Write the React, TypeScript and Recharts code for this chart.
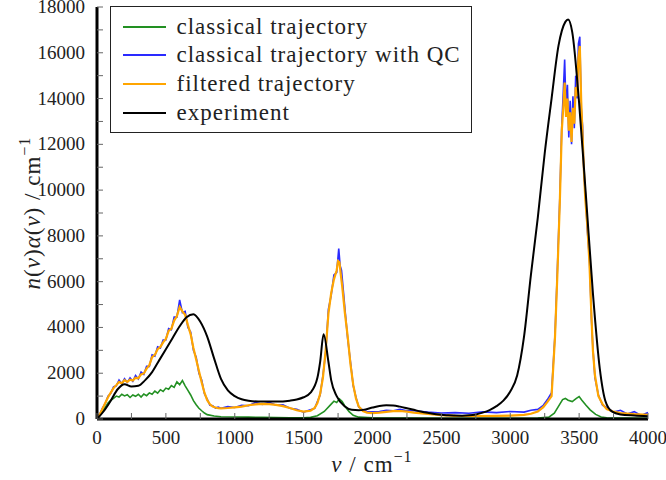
import React from "react"
import { LineChart, Line, XAxis, YAxis, Legend } from "recharts"

// wavenumber ticks (cm^-1) and intensity ticks
const xTicks = [0, 250, 500, 750, 1000, 1250, 1500, 1750, 2000, 2250, 2500, 2750, 3000, 3250, 3500, 3750, 4000]
const yTicks = [0, 1000, 2000, 3000, 4000, 5000, 6000, 7000, 8000, 9000, 10000, 11000, 12000, 13000, 14000, 15000, 16000, 17000, 18000]

// [nu, n(nu)alpha(nu)]
const classical: number[][] = [
  [0, 0], [20, 150], [40, 330], [60, 520], [80, 700], [100, 820], [120, 900], [140, 1000], [160, 960], [180, 1080],
  [200, 1010], [220, 1060], [240, 940], [260, 1050], [280, 990], [300, 1080], [320, 960], [340, 1090], [360, 1020],
  [380, 1140], [400, 1080], [420, 1220], [440, 1130], [460, 1280], [480, 1200], [500, 1350], [520, 1300], [540, 1460],
  [560, 1380], [580, 1620], [600, 1500], [620, 1680], [640, 1450], [660, 1250], [680, 1050], [700, 800], [720, 620],
  [740, 470], [760, 360], [780, 260], [800, 190], [850, 130], [900, 100], [1000, 90], [1100, 80], [1200, 70],
  [1300, 60], [1400, 50], [1500, 50], [1550, 70], [1600, 140], [1650, 330], [1700, 650], [1720, 780], [1740, 720],
  [1760, 880], [1780, 760], [1800, 560], [1830, 320], [1860, 160], [1900, 80], [2000, 50], [2500, 30], [3000, 30],
  [3200, 40], [3280, 80], [3320, 250], [3350, 550], [3380, 850], [3400, 900], [3420, 820], [3450, 760], [3480, 900],
  [3500, 980], [3520, 820], [3550, 600], [3580, 400], [3620, 200], [3660, 90], [3700, 50], [4000, 30],
]

const classicalQC: number[][] = [
  [0, 0], [20, 220], [40, 480], [60, 680], [80, 1000], [100, 1120], [120, 1400], [140, 1450], [160, 1700], [180, 1540],
  [200, 1760], [220, 1600], [240, 1800], [260, 1650], [280, 1900], [300, 1750], [320, 2050], [340, 1950], [360, 2300],
  [380, 2300], [400, 2800], [420, 2750], [440, 3150], [460, 3100], [480, 3450], [500, 3450], [520, 3950], [540, 3900],
  [560, 4450], [580, 4450], [600, 5200], [620, 4650], [640, 4700], [660, 4000], [680, 3800], [700, 3000], [720, 2700],
  [740, 2000], [760, 1700], [780, 1100], [800, 870], [820, 600], [840, 580], [860, 480], [880, 520], [900, 470],
  [950, 540], [1000, 500], [1050, 600], [1100, 580], [1150, 720], [1200, 640], [1250, 730], [1300, 600], [1350, 620],
  [1400, 470], [1450, 420], [1500, 300], [1550, 400], [1580, 460], [1600, 760], [1620, 1050], [1640, 1900],
  [1660, 2900], [1680, 4800], [1700, 5400], [1720, 6300], [1740, 6400], [1755, 7450], [1765, 6700], [1775, 6500],
  [1790, 5500], [1800, 4800], [1820, 3500], [1840, 2500], [1860, 1450], [1880, 950], [1900, 520], [1930, 400],
  [1960, 330], [2000, 320], [2050, 330], [2100, 380], [2150, 360], [2200, 420], [2250, 360], [2300, 360], [2400, 300],
  [2500, 260], [2600, 280], [2700, 250], [2800, 310], [2900, 280], [3000, 330], [3100, 300], [3150, 380], [3200, 420],
  [3240, 600], [3270, 850], [3300, 1150], [3325, 3700], [3342, 6500], [3360, 9700], [3374, 12800], [3385, 14300],
  [3395, 15700], [3405, 13500], [3415, 14600], [3425, 12300], [3435, 13900], [3445, 12000], [3455, 14100],
  [3465, 12700], [3475, 15000], [3485, 14000], [3495, 16400], [3505, 16700], [3515, 13600], [3525, 12800],
  [3535, 10600], [3545, 9900], [3560, 8200], [3575, 7000], [3590, 4300], [3600, 3100], [3615, 1800], [3640, 1050],
  [3670, 600], [3700, 500], [3750, 300], [3800, 380], [3850, 220], [3900, 320], [3950, 150], [4000, 280],
]

const filtered: number[][] = [
  [0, 0], [20, 200], [40, 450], [60, 700], [80, 950], [100, 1150], [120, 1350], [140, 1480], [160, 1620], [180, 1560],
  [200, 1700], [220, 1620], [240, 1720], [260, 1680], [280, 1800], [300, 1780], [320, 1950], [340, 1990], [360, 2200],
  [380, 2350], [400, 2700], [420, 2800], [440, 3050], [460, 3150], [480, 3350], [500, 3500], [520, 3850], [540, 3950],
  [560, 4300], [580, 4500], [600, 4900], [620, 4700], [640, 4550], [660, 4100], [680, 3700], [700, 3100], [720, 2600],
  [740, 2100], [760, 1600], [780, 1150], [800, 820], [820, 640], [840, 540], [860, 500], [880, 470], [900, 460],
  [950, 480], [1000, 510], [1050, 540], [1100, 600], [1150, 640], [1200, 660], [1250, 650], [1300, 620], [1350, 560],
  [1400, 480], [1450, 380], [1500, 320], [1550, 360], [1580, 480], [1600, 700], [1620, 1100], [1640, 1800],
  [1660, 3000], [1680, 4600], [1700, 5500], [1720, 6100], [1740, 6500], [1750, 6900], [1760, 6850], [1770, 6300],
  [1780, 5800], [1800, 4600], [1820, 3600], [1840, 2400], [1860, 1500], [1880, 900], [1900, 550], [1930, 350],
  [1960, 280], [2000, 260], [2050, 280], [2100, 310], [2150, 340], [2200, 350], [2250, 320], [2300, 280], [2400, 220],
  [2500, 170], [2600, 140], [2700, 130], [2800, 130], [2900, 140], [3000, 150], [3100, 180], [3150, 230], [3200, 330],
  [3240, 520], [3270, 750], [3300, 1000], [3325, 3600], [3342, 6300], [3360, 9500], [3374, 12600], [3385, 13600],
  [3395, 14700], [3405, 13200], [3415, 14000], [3425, 12600], [3435, 13400], [3445, 12100], [3455, 13600],
  [3465, 12900], [3475, 14500], [3485, 14100], [3495, 15800], [3505, 16300], [3515, 13900], [3525, 12400],
  [3535, 10800], [3545, 9600], [3560, 8400], [3575, 6800], [3590, 4400], [3600, 3000], [3615, 1900], [3640, 1000],
  [3670, 650], [3700, 430], [3750, 320], [3800, 260], [3900, 210], [4000, 180],
]

const experiment: number[][] = [
  [0, 0], [50, 350], [100, 800], [150, 1300], [200, 1520], [250, 1420], [300, 1450], [350, 1700], [400, 2050],
  [450, 2550], [500, 3050], [550, 3550], [600, 4050], [650, 4450], [700, 4580], [750, 4250], [800, 3600], [850, 2650],
  [900, 1750], [950, 1250], [1000, 1000], [1050, 860], [1100, 800], [1200, 760], [1300, 760], [1400, 800], [1450, 850],
  [1500, 950], [1550, 1150], [1600, 1800], [1620, 2500], [1645, 3700], [1680, 2500], [1700, 1700], [1740, 1000],
  [1800, 550], [1850, 400], [1900, 380], [1950, 420], [2000, 500], [2050, 570], [2100, 600], [2150, 590], [2200, 540],
  [2250, 470], [2300, 400], [2350, 330], [2400, 270], [2450, 220], [2500, 190], [2550, 160], [2600, 150], [2650, 145],
  [2700, 160], [2750, 200], [2800, 280], [2850, 390], [2900, 560], [2950, 800], [3000, 1200], [3050, 1900],
  [3100, 3600], [3150, 6300], [3200, 8800], [3250, 11600], [3300, 14000], [3350, 16300], [3400, 17350], [3420, 17450],
  [3450, 16900], [3500, 13800], [3550, 9700], [3600, 5500], [3650, 2200], [3690, 800], [3740, 320], [3800, 200],
  [3900, 150], [4000, 120],
]

const seriesNames = ["classical trajectory", "classical trajectory with QC", "filtered trajectory", "experiment"]
const seriesColors = ["#229022", "#2a2aff", "#ffa500", "#000000"]

const serif = '"Liberation Serif", "Times New Roman", serif'

const toPoints = (arr: number[][]) => arr.map(([nu, v]) => ({ nu, v }))

function YTick(props: any) {
  const { x, y, payload } = props
  const v = payload.value
  return (
    <g>
      <line x1={x} x2={x + 6} y1={y} y2={y} stroke="#666" strokeWidth={1} />
      {v % 2000 === 0 && (
        <text x={x - 12} y={y + 6} textAnchor="end" fontFamily={serif} fontSize={19} fill="#222">
          {v}
        </text>
      )}
    </g>
  )
}

function XTick(props: any) {
  const { x, y, payload } = props
  const v = payload.value
  return (
    <g>
      <line x1={x} x2={x} y1={y} y2={y - 6} stroke="#666" strokeWidth={1} />
      {v % 500 === 0 && (
        <text x={x} y={y + 25} textAnchor="middle" fontFamily={serif} fontSize={19} fill="#222">
          {v}
        </text>
      )}
    </g>
  )
}

function LegendBox() {
  return (
    <div
      style={{
        position: "relative",
        width: 362,
        height: 127,
        border: "1.5px solid #222",
        background: "#fff",
        boxSizing: "border-box",
      }}
    >
      {seriesNames.map((name, i) => (
        <div
          key={name}
          style={{
            position: "absolute",
            left: 11.5,
            top: 5.5 + i * 28.7,
            height: 28,
            display: "flex",
            alignItems: "center",
          }}
        >
          <span style={{ display: "inline-block", width: 43, height: 0, borderTop: `2px solid ${seriesColors[i]}` }} />
          <span
            style={{
              marginLeft: 11,
              fontFamily: serif,
              fontSize: 23,
              letterSpacing: 1,
              color: "#222",
              whiteSpace: "nowrap",
              lineHeight: "28px",
            }}
          >
            {name}
          </span>
        </div>
      ))}
    </div>
  )
}

export default function App() {
  return (
    <div style={{ position: "absolute", left: 0, top: 0, width: 666, height: 480, background: "#fff" }}>
      <LineChart width={666} height={480} margin={{ top: 7, right: 18, bottom: 0, left: 0 }}>
        <XAxis
          type="number"
          dataKey="nu"
          domain={[0, 4000]}
          ticks={xTicks}
          interval={0}
          height={61}
          tickSize={0}
          tickMargin={0}
          tickLine={false}
          tick={<XTick />}
          axisLine={{ stroke: "#000", strokeWidth: 3 }}
        />
        <YAxis
          type="number"
          dataKey="v"
          domain={[0, 18000]}
          ticks={yTicks}
          interval={0}
          width={97}
          tickSize={0}
          tickMargin={0}
          tickLine={false}
          tick={<YTick />}
          axisLine={{ stroke: "#000", strokeWidth: 3 }}
        />
        <Legend
          layout="vertical"
          align="center"
          verticalAlign="middle"
          content={() => <LegendBox />}
          wrapperStyle={{ position: "absolute", left: 110, top: 6, width: 362 }}
        />
        <Line data={toPoints(classical)} dataKey="v" name={seriesNames[0]} stroke={seriesColors[0]} strokeWidth={1.6} dot={false} type="linear" isAnimationActive={false} />
        <Line data={toPoints(classicalQC)} dataKey="v" name={seriesNames[1]} stroke={seriesColors[1]} strokeWidth={1.6} dot={false} type="linear" isAnimationActive={false} />
        <Line data={toPoints(filtered)} dataKey="v" name={seriesNames[2]} stroke={seriesColors[2]} strokeWidth={2.2} dot={false} type="linear" isAnimationActive={false} />
        <Line data={toPoints(experiment)} dataKey="v" name={seriesNames[3]} stroke={seriesColors[3]} strokeWidth={2} dot={false} type="monotone" isAnimationActive={false} />
      </LineChart>

      <div
        style={{
          position: "absolute",
          left: 31,
          top: 213,
          transform: "translate(-50%, -50%) rotate(-90deg)",
          fontFamily: serif,
          fontSize: 23,
          letterSpacing: 1,
          whiteSpace: "nowrap",
          color: "#222",
        }}
      >
        <i>n</i>(<i>ν</i>)<i>α</i>(<i>ν</i>) / cm<span style={{ fontSize: "0.7em", verticalAlign: "0.6em" }}>−1</span>
      </div>
      <div
        style={{
          position: "absolute",
          left: 372,
          top: 463,
          transform: "translate(-50%, -50%)",
          fontFamily: serif,
          fontSize: 23,
          letterSpacing: 1,
          whiteSpace: "nowrap",
          color: "#222",
        }}
      >
        <i>ν</i> / cm<span style={{ fontSize: "0.7em", verticalAlign: "0.6em" }}>−1</span>
      </div>
    </div>
  )
}
